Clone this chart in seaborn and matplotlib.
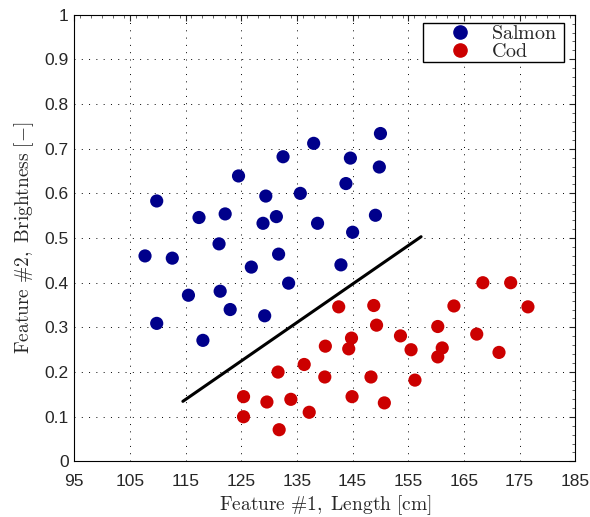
import matplotlib
matplotlib.use("Agg")
import matplotlib.pyplot as plt
import seaborn as sns
import pandas as pd
from matplotlib.ticker import MultipleLocator
from matplotlib.lines import Line2D

salmon_len = [138.0, 132.5, 124.5, 135.6, 129.4, 109.8, 117.4, 122.1, 131.3, 128.9,
              138.7, 121.0, 107.7, 112.6, 131.7, 126.8, 133.5, 115.5, 121.2, 123.0,
              129.2, 109.8, 118.1, 150.0, 144.6, 149.8, 143.8, 149.1, 145.0, 142.9]
salmon_bri = [0.712, 0.682, 0.639, 0.600, 0.594, 0.583, 0.546, 0.554, 0.548, 0.533,
              0.533, 0.487, 0.460, 0.455, 0.464, 0.435, 0.399, 0.372, 0.381, 0.340,
              0.326, 0.309, 0.271, 0.734, 0.679, 0.659, 0.622, 0.551, 0.513, 0.440]

cod_len = [142.5, 148.8, 149.3, 144.8, 144.3, 140.1, 136.3, 131.6, 140.0, 125.4,
           129.6, 133.9, 144.9, 137.2, 125.4, 131.8, 168.4, 173.4, 163.2, 176.5,
           160.3, 153.6, 167.3, 155.5, 161.1, 160.3, 171.3, 148.3, 156.2, 150.7]
cod_bri = [0.346, 0.349, 0.305, 0.276, 0.252, 0.258, 0.217, 0.200, 0.189, 0.145,
           0.133, 0.139, 0.145, 0.110, 0.100, 0.071, 0.400, 0.400, 0.348, 0.346,
           0.302, 0.281, 0.285, 0.250, 0.254, 0.234, 0.244, 0.189, 0.182, 0.131]

boundary_x = [114.5, 157.3]
boundary_y = [0.1345, 0.503]

x_ticks = [95, 105, 115, 125, 135, 145, 155, 165, 175, 185]
y_ticks = [0, 0.1, 0.2, 0.3, 0.4, 0.5, 0.6, 0.7, 0.8, 0.9, 1]

df = pd.DataFrame({
    "length": salmon_len + cod_len,
    "brightness": salmon_bri + cod_bri,
    "species": ["Salmon"] * len(salmon_len) + ["Cod"] * len(cod_len),
})

sns.set_style("white")
plt.rcParams["mathtext.fontset"] = "cm"
plt.rcParams["font.family"] = ["Liberation Sans", "DejaVu Sans"]

fig = plt.figure(figsize=(5.9, 5.17), dpi=100)
ax = fig.add_axes([0.126, 0.1075, 0.849, 0.8641])

ax.grid(True, linestyle=(0, (1, 6.5)), color="black", linewidth=0.7)
ax.set_axisbelow(True)

sns.scatterplot(data=df, x="length", y="brightness", hue="species",
                palette={"Salmon": "#00008B", "Cod": "#CC0000"},
                s=90, edgecolor="none", ax=ax, legend=False, zorder=3)

ax.plot(boundary_x, boundary_y, color="black", linewidth=2.2, zorder=4)

ax.set_xlim(95, 185)
ax.set_ylim(0, 1)
ax.set_xticks(x_ticks)
ax.set_xticklabels([str(t) for t in x_ticks])
ax.set_yticks(y_ticks)
ax.set_yticklabels(["0"] + [f"{t:.1f}" for t in y_ticks[1:-1]] + ["1"])
ax.tick_params(axis="both", which="major", direction="in", length=4, width=0.8,
               top=True, right=True, labelsize=12.5)
ax.tick_params(axis="x", which="major", pad=9)
ax.tick_params(axis="y", which="major", pad=4)
ax.xaxis.set_minor_locator(MultipleLocator(2))
ax.yaxis.set_minor_locator(MultipleLocator(0.02))
ax.tick_params(axis="both", which="minor", direction="in", length=2, width=0.5,
               top=True, right=True)
for sp in ax.spines.values():
    sp.set_color("black")
    sp.set_linewidth(0.8)

ax.set_xlabel(r"$\mathrm{Feature\ \#1,\ Length\ [cm]}$", fontsize=14, labelpad=3)
ax.set_ylabel(r"$\mathrm{Feature\ \#2,\ Brightness\ [-]}$", fontsize=14, labelpad=6)

handles = [Line2D([], [], marker="o", linestyle="none", color="#00008B", markersize=9.5),
           Line2D([], [], marker="o", linestyle="none", color="#CC0000", markersize=9.5)]
leg = ax.legend(handles, [r"$\mathrm{Salmon}$" + "\u00a0\u00a0", r"$\mathrm{Cod}$"],
                loc="upper right",
                bbox_to_anchor=(0.978, 0.981), fontsize=14.5, frameon=True, fancybox=False,
                edgecolor="black", framealpha=1, borderpad=0.05, labelspacing=-0.05,
                handletextpad=-0.2, handlelength=3.5, borderaxespad=0)
leg.get_frame().set_linewidth(1.0)

fig.savefig("out.png", dpi=100)
